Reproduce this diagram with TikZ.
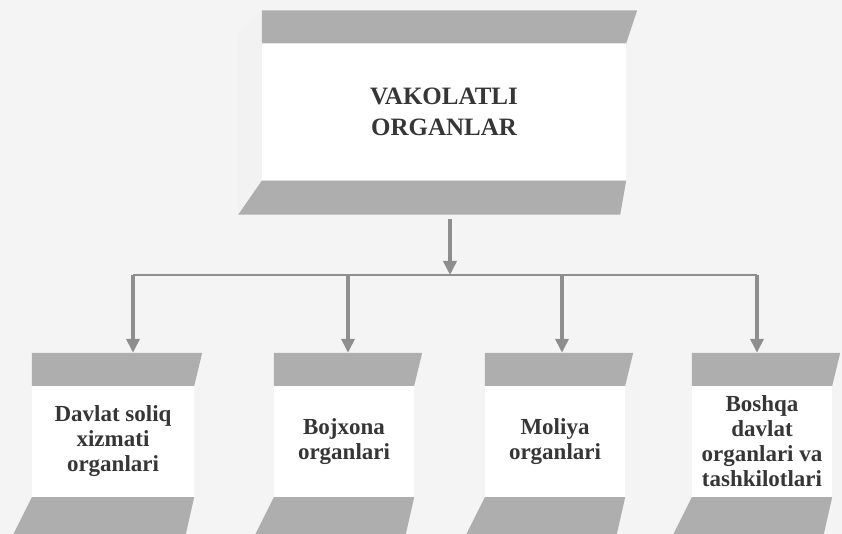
\documentclass[tikz,border=0pt]{standalone}
\usepackage{fontspec}
\setmainfont{Liberation Serif}
\usetikzlibrary{calc,arrows.meta}

\definecolor{bandgray}{HTML}{AEAEAE}
\definecolor{linegray}{HTML}{8E8E8E}
\definecolor{textgray}{HTML}{363636}
\definecolor{paper}{HTML}{F4F4F4}

\tikzset{
	box/.style={rectangle, fill=white, align=center, inner sep=0pt, text=textgray,
		font=\bfseries\fontsize{23}{25}\selectfont},
	small/.style={box, minimum width=140pt, minimum height=111pt},
	band/.style={fill=bandgray},
	side/.style={fill=gray!10},
	arr/.style={draw=linegray, line width=3.5pt, -{Triangle[length=14pt,width=13pt]}},
	bus/.style={draw=linegray, line width=2.5pt}
}

\begin{document}
\begin{tikzpicture}[x=1pt, y=-1pt]
	\fill[paper] (0,0) rectangle (842,534);
	\useasboundingbox (0,0) rectangle (842,534);

	% top box
	\node[box, minimum width=364pt, minimum height=137pt,
		font=\bfseries\fontsize{25}{31}\selectfont] (vakolat) at (444,112) {VAKOLATLI\\ORGANLAR};
	\fill[side] (vakolat.south west) -- ++(-24,34) -- ($(vakolat.north west)+(-24,-8)$)
		-- ($(vakolat.north west)+(0,-33)$) -- cycle;
	\fill[band] (vakolat.north west) -- ++(0,-33) -- ($(vakolat.north east)+(11,-33)$)
		-- (vakolat.north east) -- cycle;
	\fill[band] (vakolat.south west) -- (vakolat.south east) -- ++(-6,34) -- ++(-382,0) -- cycle;

	% lower boxes
	\node[small, minimum width=162pt] (s1) at (113,441.5) {Davlat soliq\\xizmati\\organlari};
	\node[small] (s2) at (344,441.5) {Bojxona\\organlari};
	\node[small] (s3) at (555,441.5) {Moliya\\organlari};
	\node[small] (s4) at (762,441.5) {Boshqa\\davlat\\organlari va\\tashkilotlari};

	\foreach \b in {s1,s2,s3,s4} {
		\fill[band] (\b.north west) -- ++(0,-33) -- ($(\b.north east)+(8,-33)$)
			-- (\b.north east) -- cycle;
		\fill[band] (\b.south west) -- (\b.south east) -- ++(-10,44)
			-- ($(\b.south west)+(-22,44)$) -- cycle;
	}

	% connectors
	\coordinate (tap) at (450,219);
	\coordinate (bus) at (450,275);
	\coordinate (d1) at (133,275);
	\coordinate (d2) at (348,275);
	\coordinate (d3) at (562,275);
	\coordinate (d4) at (757,275);

	\draw[bus] (d1) -- (d4);
	\draw[arr] (tap) -- (bus);
	\foreach \d/\b in {d1/s1,d2/s2,d3/s3,d4/s4}
		\draw[arr] (\d) -- ($(\d |- \b.north)+(0,-33)$);
\end{tikzpicture}
\end{document}
